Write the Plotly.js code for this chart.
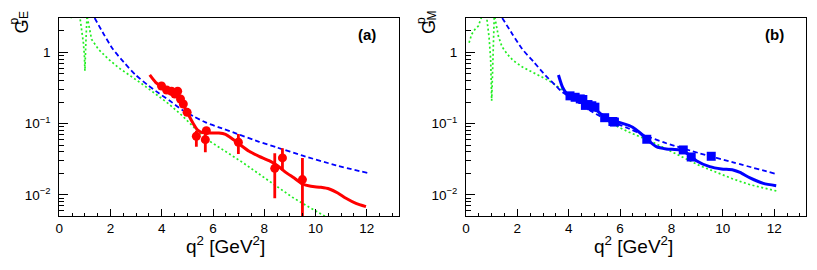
<!DOCTYPE html>
<html>
<head>
<meta charset="utf-8">
<script src="https://cdn.plot.ly/plotly-3.0.1.min.js"></script>
<style>html,body{margin:0;padding:0;background:#fff;}#chart{width:817px;height:270px;}</style>
</head>
<body>
<div id="chart"></div>
<script>
// ---------- Panel (a): G_E^p ----------
const dataA_q2  = [3.99, 4.19, 4.38, 4.51, 4.62, 4.73, 4.84, 4.99, 5.35, 5.70, 5.74, 6.99, 8.41, 8.71, 9.49];
const dataA_G   = [0.337, 0.296, 0.284, 0.260, 0.284, 0.221, 0.188, 0.144, 0.0664, 0.0595, 0.0796, 0.0547, 0.0236, 0.033, 0.0164];
const dataA_eUp = [0.012, 0.010, 0.010, 0.010, 0.010, 0.010, 0.010, 0.010, 0.0132, 0.020, 0.008, 0.0168, 0.0147, 0.012, 0.0166];
const dataA_eDn = [0.012, 0.010, 0.010, 0.010, 0.010, 0.010, 0.010, 0.010, 0.019, 0.020, 0.008, 0.0172, 0.0146, 0.011, 0.0162];

const fitA_q2 = [3.53, 3.76, 3.99, 4.28, 4.54, 4.69, 4.86, 5.03, 5.22, 5.39, 5.58, 5.84, 6.23, 6.49, 6.76, 7.02, 7.41, 7.80, 8.19, 8.52, 8.84, 9.17, 9.49, 9.82, 10.21, 10.54, 10.87, 11.19, 11.58, 11.97];
const fitA_G  = [0.481, 0.379, 0.33, 0.29, 0.27, 0.229, 0.178, 0.136, 0.101, 0.082, 0.0746, 0.0738, 0.0738, 0.0705, 0.0608, 0.0518, 0.0409, 0.0348, 0.0302, 0.0257, 0.0207, 0.01725, 0.01422, 0.0132, 0.01277, 0.0121, 0.01063, 0.00896, 0.0076, 0.00684];

const dashA_q2 = [1.38, 1.73, 2.09, 2.52, 2.97, 3.43, 3.89, 4.34, 4.80, 5.26, 5.71, 6.23, 6.89, 7.8, 8.5, 9.5, 10.8, 12.08];
const dashA_G  = [3.03, 1.81, 1.11, 0.724, 0.485, 0.351, 0.266, 0.2055, 0.155, 0.125, 0.104, 0.0887, 0.073, 0.0556, 0.0462, 0.0355, 0.026, 0.0201];

const dotA_q2 = [0.46, 0.48, 0.52, 0.65, 0.81, 0.88, 0.94, 0.98, 1.0, 1.03, 1.06, 1.085, 1.1, 1.26, 1.53, 1.92, 2.31, 2.77, 3.23, 3.76, 4.28, 4.80, 5.32, 5.84, 6.36, 6.89, 7.15, 7.8, 8.45, 9.1, 9.76, 10.38, 10.6];
const dotA_G  = [3.2, 3.0, 3.3, 5.0, 3.0, 2.1, 1.36, 0.89, 0.55, 1.2, 2.6, 3.5, 3.0, 1.52, 1.1, 0.8, 0.61, 0.47, 0.36, 0.26, 0.188, 0.129, 0.084, 0.0575, 0.0437, 0.033, 0.0286, 0.0196, 0.0135, 0.00925, 0.0067, 0.005, 0.0045];

// ---------- Panel (b): G_M^p ----------
const dataB_q2 = [4.05, 4.25, 4.45, 4.55, 4.65, 4.75, 4.9, 5.02, 5.4, 5.72, 5.78, 7.04, 8.46, 8.77, 9.55];
const dataB_G  = [0.245, 0.234, 0.222, 0.218, 0.18, 0.185, 0.178, 0.17, 0.121, 0.107, 0.105, 0.0603, 0.0427, 0.034, 0.0348];

const fitB_q2 = [3.6, 3.76, 3.96, 4.28, 4.54, 4.93, 5.26, 5.58, 5.97, 6.36, 6.49, 6.76, 7.08, 7.41, 7.80, 8.32, 8.65, 8.97, 9.49, 9.95, 10.4, 10.67, 11.06, 11.58, 12.08];
const fitB_G  = [0.48, 0.323, 0.255, 0.234, 0.206, 0.17, 0.136, 0.112, 0.104, 0.0935, 0.0887, 0.075, 0.0589, 0.0474, 0.044, 0.0427, 0.0375, 0.0302, 0.0249, 0.0231, 0.0224, 0.0207, 0.0173, 0.0145, 0.01346];

const dashB_q2 = [1.41, 1.8, 2.19, 2.65, 3.1, 3.5, 3.76, 4.34, 4.8, 5.26, 5.71, 6.23, 6.89, 7.8, 9.1, 10.4, 12.1];
const dashB_G  = [3.03, 1.81, 1.11, 0.724, 0.47, 0.34, 0.275, 0.205, 0.155, 0.125, 0.104, 0.0887, 0.07, 0.053, 0.0383, 0.0286, 0.0196];

const dotB_q2 = [0.12, 0.22, 0.35, 0.48, 0.55, 0.62, 0.72, 0.81, 0.9, 0.96, 1.0, 1.04, 1.08, 1.1, 1.13, 1.26, 1.4, 1.6, 1.83, 2.2, 2.71, 3.23, 3.76, 4.15, 4.6, 5.0, 5.4, 5.76, 6.36, 6.89, 7.28, 7.8, 8.45, 9.1, 9.76, 10.4, 11.06, 11.71, 12.16];
const dotB_G  = [1.36, 1.79, 2.1, 2.34, 2.75, 3.2, 3.5, 3.0, 1.6, 0.8, 0.21, 0.9, 2.5, 3.2, 3.0, 1.69, 1.2, 0.95, 0.77, 0.62, 0.5, 0.4, 0.296, 0.24, 0.19, 0.155, 0.114, 0.096, 0.0755, 0.0628, 0.0547, 0.044, 0.0337, 0.0257, 0.0207, 0.0167, 0.0139, 0.0121, 0.0112];

// ---------- tick labels ----------
const yTickVals = [0.01, 0.1, 1];
const yTickText = ['10<sup>\u22122</sup>', '10<sup>\u22121</sup>', '1'];
const panelLabels = ['(a)', '(b)'];

const RED = '#ff0000', BLUE = '#0000ff', GREEN = '#22ee22';
const FONT = 'Liberation Sans, Arial, Helvetica, sans-serif';

const traces = [];
function addPanel(ax, dot, dash, fit, data, color, marker, errs) {
  const xa = ax === 1 ? 'x' : 'x2', ya = ax === 1 ? 'y' : 'y2';
  traces.push({x: dot[0], y: dot[1], xaxis: xa, yaxis: ya, mode: 'lines', type: 'scatter',
    line: {color: GREEN, width: 1.7, dash: '2px,2.5px'}, hoverinfo: 'skip'});
  traces.push({x: dash[0], y: dash[1], xaxis: xa, yaxis: ya, mode: 'lines', type: 'scatter',
    line: {color: BLUE, width: 1.8, dash: '5px,3px', shape: 'spline', smoothing: 0.6}});
  traces.push({x: fit[0], y: fit[1], xaxis: xa, yaxis: ya, mode: 'lines', type: 'scatter',
    line: {color: color, width: 3, shape: 'spline', smoothing: 0.6}});
  const t = {x: data[0], y: data[1], xaxis: xa, yaxis: ya, mode: 'markers', type: 'scatter',
    marker: {color: color, size: 9, symbol: marker}};
  if (errs) {
    t.error_y = {type: 'data', symmetric: false, array: errs[0], arrayminus: errs[1],
      color: color, thickness: 2.8, width: 0};
  }
  traces.push(t);
}
addPanel(1, [dotA_q2, dotA_G], [dashA_q2, dashA_G], [fitA_q2, fitA_G], [dataA_q2, dataA_G], RED, 'circle', [dataA_eUp, dataA_eDn]);
addPanel(2, [dotB_q2, dotB_G], [dashB_q2, dashB_G], [fitB_q2, fitB_G], [dataB_q2, dataB_G], BLUE, 'square', null);

const W = 817, H = 270;
const minorY = [];
for (let e = -3; e <= 0; e++) for (let d = 2; d <= 9; d++) minorY.push(d * Math.pow(10, e));

function xaxis(dom) {
  return {domain: dom, range: [0, 13.24], showline: true, mirror: true, linecolor: 'black', linewidth: 1,
    ticks: 'inside', ticklen: 7, tickcolor: 'black', tick0: 0, dtick: 2, showgrid: false, zeroline: false,
    tickfont: {family: FONT, size: 13.5, color: 'black'},
    minor: {dtick: 0.5, tick0: 0, ticks: 'inside', ticklen: 3.5, tickcolor: 'black', showgrid: false}};
}
function yaxis(anchor) {
  return {domain: [0.2, 0.9333], type: 'log', range: [-2.296, 0.481], anchor: anchor,
    showline: true, mirror: true, linecolor: 'black', linewidth: 1,
    ticks: 'inside', ticklen: 9, tickcolor: 'black', showgrid: false, zeroline: false,
    tickmode: 'array', tickvals: yTickVals, ticktext: yTickText, ticklabelstandoff: 5,
    tickfont: {family: FONT, size: 13.5, color: 'black'},
    minor: {tickmode: 'array', tickvals: minorY, ticks: 'inside', ticklen: 5, tickcolor: 'black', showgrid: false}};
}

const ann = [];
function txt(px, py, text, size, angle) {
  ann.push({xref: 'paper', yref: 'paper', x: px / W, y: 1 - py / H, text: text, showarrow: false,
    xanchor: 'center', yanchor: 'middle', textangle: angle || 0,
    font: {family: FONT, size: size, color: 'black'}});
}
[0, 407.5].forEach((off, i) => {
  txt(21.5 + off, 27, 'G', 18, -90);
  txt(13.5 + off, 21, 'p', 12, -90);
  txt(24.5 + off, 15.5, i === 0 ? 'E' : 'M', 12, -90);
  txt(225.5 + off, 245, 'q<sup>2</sup> [GeV<sup>2</sup>]', 19, 0);
  txt(366.7 + off, 34.8, '<b>' + panelLabels[i] + '</b>', 15, 0);
});

const layout = {
  width: W, height: H, margin: {l: 0, r: 0, t: 0, b: 0},
  paper_bgcolor: 'white', plot_bgcolor: 'white', showlegend: false,
  xaxis: xaxis([59.3 / W, 398.5 / W]), yaxis: yaxis('x'),
  xaxis2: Object.assign(xaxis([466 / W, 806 / W]), {anchor: 'y2'}), yaxis2: yaxis('x2'),
  annotations: ann
};
layout.xaxis.anchor = 'y';
Plotly.newPlot('chart', traces, layout, {staticPlot: true});
</script>
</body>
</html>
